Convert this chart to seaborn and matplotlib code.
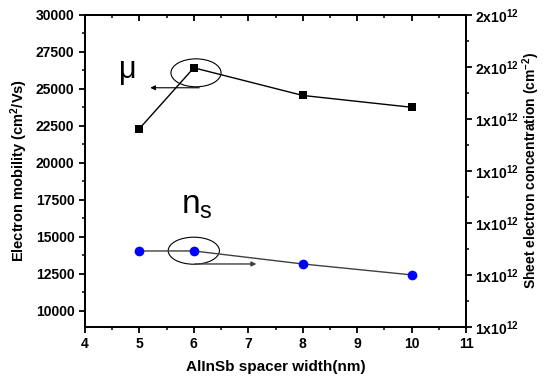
import numpy as np
import pandas as pd
import matplotlib
matplotlib.use("Agg")
import matplotlib.pyplot as plt
from matplotlib.patches import Ellipse
from matplotlib.ticker import AutoMinorLocator, FixedLocator, FixedFormatter
import seaborn as sns

sns.set_style("ticks", {'axes.edgecolor': 'black', 'text.color': 'black',
                        'axes.labelcolor': 'black', 'xtick.color': 'black',
                        'ytick.color': 'black'})
plt.rcParams['font.family'] = ['Liberation Sans', 'DejaVu Sans']
plt.rcParams['mathtext.default'] = 'regular'

# data
spacer = [5, 6, 8, 10]
mobility = [22300, 26420, 24550, 23750]
sheet_conc = [1.146e12, 1.146e12, 1.121e12, 1.100e12]

right_ticks = [1.0e12, 1.1e12, 1.2e12, 1.3e12, 1.4e12, 1.5e12, 1.6e12]
right_labels = ["1x10$^{12}$", "1x10$^{12}$", "1x10$^{12}$", "1x10$^{12}$",
                "1x10$^{12}$", "2x10$^{12}$", "2x10$^{12}$"]

df = pd.DataFrame({'width': spacer, 'mu': mobility, 'ns': sheet_conc})

fig = plt.figure(figsize=(5.44, 3.81), dpi=100)
ax = fig.add_axes([0.156, 0.142, 0.701, 0.819])
ax2 = ax.twinx()

sns.lineplot(x='width', y='mu', data=df, ax=ax, color='black', lw=1,
             marker='s', markersize=6, markeredgewidth=0, markerfacecolor='black')
sns.lineplot(x='width', y='ns', data=df, ax=ax2, color='#404040', lw=1,
             marker='o', markersize=7, markeredgewidth=0, markerfacecolor='#0000ff')

ax.set_xlim(4, 11)
ax.set_ylim(8900, 30000)
ax.set_yticks(np.arange(10000, 30001, 2500))
ax.set_xticks(range(4, 12))
ax2.set_ylim(1.0e12, 1.6e12)
ax2.yaxis.set_major_locator(FixedLocator(right_ticks))
ax2.yaxis.set_major_formatter(FixedFormatter(right_labels))

for a in (ax, ax2):
    for s in a.spines.values():
        s.set_linewidth(1.3)
        s.set_visible(True)

ax.xaxis.set_minor_locator(AutoMinorLocator(2))
ax.yaxis.set_minor_locator(AutoMinorLocator(2))
ax2.yaxis.set_minor_locator(AutoMinorLocator(2))
ax.tick_params(which='major', length=4, width=1.3, direction='out', labelsize=10)
ax.tick_params(which='minor', length=2.5, width=1.1, direction='out')
ax2.tick_params(which='major', length=4, width=1.3, direction='out', labelsize=10, pad=2)
ax2.tick_params(which='minor', length=2.5, width=1.1, direction='out')
for lab in ax.get_xticklabels() + ax.get_yticklabels() + ax2.get_yticklabels():
    lab.set_fontweight('bold')

top = ax.secondary_xaxis('top')
top.set_xticks(range(4, 12))
top.xaxis.set_minor_locator(AutoMinorLocator(2))
top.tick_params(which='major', direction='in', length=4, width=1.3, labeltop=False)
top.tick_params(which='minor', direction='in', length=2.5, width=1.1)
top.spines['top'].set_linewidth(1.3)

ax.set_xlabel('AlInSb spacer width(nm)', fontsize=11, fontweight='bold', labelpad=6)
ax.set_ylabel('Electron mobility (cm$^2$/Vs)', fontsize=10.5, fontweight='bold', labelpad=4)
ax2.set_ylabel('Sheet electron concentration (cm$^{-2}$)', fontsize=10, fontweight='bold', labelpad=2)

# annotations: circles and arrows pointing to the matching axis
ax.add_patch(Ellipse((spacer[1] + 0.04, mobility[1] - 340), 0.92, 1890,
                     fill=False, edgecolor='black', lw=0.8))
ax.annotate('', xy=(5.15, 25070), xytext=(6.15, 25070),
            arrowprops=dict(arrowstyle='-|>', color='black', lw=0.8, mutation_scale=7))
ax.text(4.79, 26300, 'μ', fontsize=22, ha='center', va='center')

ax2.add_patch(Ellipse((spacer[1], sheet_conc[1] + 0.0005e12), 0.94, 0.052e12,
                      fill=False, edgecolor='black', lw=0.8))
ax2.annotate('', xy=(7.2, 1.121e12), xytext=(5.97, 1.121e12),
             arrowprops=dict(arrowstyle='-|>', color='#404040', lw=1, mutation_scale=7))
ax2.text(6.05, 1.234e12, 'n$_s$', fontsize=24, ha='center', va='center')

fig.savefig('out.png', dpi=100)
